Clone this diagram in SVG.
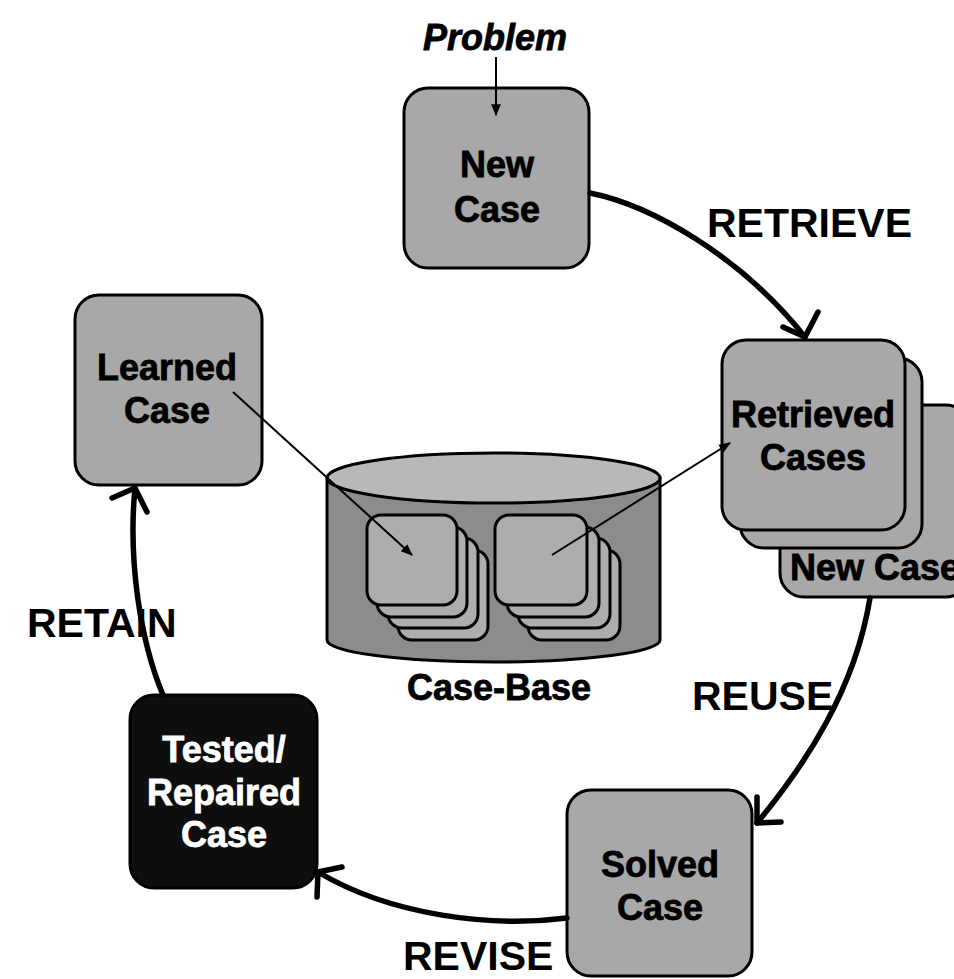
<svg xmlns="http://www.w3.org/2000/svg" width="954" height="979" viewBox="0 0 954 979">
<style>
.box{fill:#a8a8a8;stroke:#000;stroke-width:3}
.dark{fill:#0e0e0e;stroke:#000;stroke-width:3}
.sq{fill:#adadad;stroke:#000;stroke-width:3}
.body{fill:#8c8c8c;stroke:#000;stroke-width:3}
.top{fill:#b8b8b8;stroke:#000;stroke-width:3}
.lbl{font-family:"Liberation Sans",Arial,Helvetica,sans-serif;font-weight:bold;font-size:36px;text-anchor:middle;fill:#000;stroke:#000;stroke-width:0.8}
.wl{fill:#fff;stroke:#fff}
.big{font-family:"Liberation Sans",Arial,Helvetica,sans-serif;font-weight:bold;font-size:41px;fill:#000}
.arc{fill:none;stroke:#000;stroke-width:5.5;stroke-linecap:round;stroke-linejoin:round}
.thin{fill:none;stroke:#000;stroke-width:2}
</style>
<defs>
<marker id="tri" viewBox="0 0 10 10" refX="9" refY="5" markerWidth="6" markerHeight="6" orient="auto" markerUnits="strokeWidth">
<path d="M0,1 L10,5 L0,9 z" fill="#000"/>
</marker>
</defs>
<rect width="954" height="979" fill="#fff"/>

<g id="problem">
<text class="lbl" x="495" y="50" font-style="italic" textLength="144" lengthAdjust="spacingAndGlyphs">Problem</text>
</g>

<g id="new-case">
<rect class="box" x="404" y="88" width="185" height="180" rx="24"/>
<text class="lbl" x="497" y="177">New</text>
<text class="lbl" x="497" y="222">Case</text>
</g>

<g id="retrieved-cases">
<rect class="box" x="780" y="405" width="190" height="192" rx="24"/>
<text class="lbl" x="790" y="580" font-size="35" style="text-anchor:start">New Case</text>
<rect class="box" x="740" y="358" width="182" height="190" rx="24"/>
<rect class="box" x="722" y="340" width="183" height="190" rx="24"/>
<text class="lbl" x="813" y="427">Retrieved</text>
<text class="lbl" x="813" y="470">Cases</text>
</g>

<g id="learned-case">
<rect class="box" x="75" y="295" width="187" height="190" rx="24"/>
<text class="lbl" x="167" y="380">Learned</text>
<text class="lbl" x="167" y="423">Case</text>
</g>

<g id="case-base">
<path class="body" d="M327,478 L327,640 A166.5,22 0 0 0 660,640 L660,478 Z"/>
<ellipse class="top" cx="493.5" cy="478" rx="166.5" ry="25"/>
<g id="left-stack">
<rect class="sq" x="398" y="550" width="90" height="90" rx="14"/>
<rect class="sq" x="388" y="538" width="90" height="90" rx="14"/>
<rect class="sq" x="377" y="527" width="90" height="90" rx="14"/>
<rect class="sq" x="367" y="515" width="90" height="90" rx="14"/>
</g>
<g id="right-stack">
<rect class="sq" x="528" y="550" width="92" height="90" rx="14"/>
<rect class="sq" x="518" y="538" width="92" height="90" rx="14"/>
<rect class="sq" x="507" y="527" width="92" height="90" rx="14"/>
<rect class="sq" x="495" y="515" width="92" height="90" rx="14"/>
</g>
<text class="lbl" x="499" y="700" font-size="35">Case-Base</text>
</g>

<g id="tested-repaired-case">
<rect class="dark" x="130" y="695" width="187" height="193" rx="24"/>
<text class="lbl wl" x="224" y="762">Tested/</text>
<text class="lbl wl" x="224" y="805">Repaired</text>
<text class="lbl wl" x="224" y="847">Case</text>
</g>

<g id="solved-case">
<rect class="box" x="567" y="790" width="185" height="186" rx="24"/>
<text class="lbl" x="660" y="877">Solved</text>
<text class="lbl" x="660" y="920">Case</text>
</g>

<g id="connectors">
<line class="thin" x1="496" y1="57" x2="496" y2="115" marker-end="url(#tri)"/>
<path class="arc" d="M590,193 C650,205 740,255 805,337"/>
<path class="arc" d="M818,312 L805,337 L783,327"/>
<path class="arc" d="M870,598 C855,690 805,765 757,823"/>
<path class="arc" d="M757,797 L757,823 L781,822"/>
<path class="arc" d="M567,918 C490,928 390,915 318,872"/>
<path class="arc" d="M342,867 L318,872 L317,897"/>
<path class="arc" d="M163,695 C140,640 128,560 135,488"/>
<path class="arc" d="M112,498 L135,488 L147,512"/>
<line class="thin" x1="233" y1="392" x2="412" y2="555" marker-end="url(#tri)"/>
<line class="thin" x1="552" y1="555" x2="730" y2="443" marker-end="url(#tri)"/>
</g>

<g id="labels">
<text class="big" x="707" y="237">RETRIEVE</text>
<text class="big" x="692" y="710" font-size="40">REUSE</text>
<text class="big" x="403" y="970" font-size="40">REVISE</text>
<text class="big" x="27" y="637" font-size="42">RETAIN</text>
</g>
</svg>
